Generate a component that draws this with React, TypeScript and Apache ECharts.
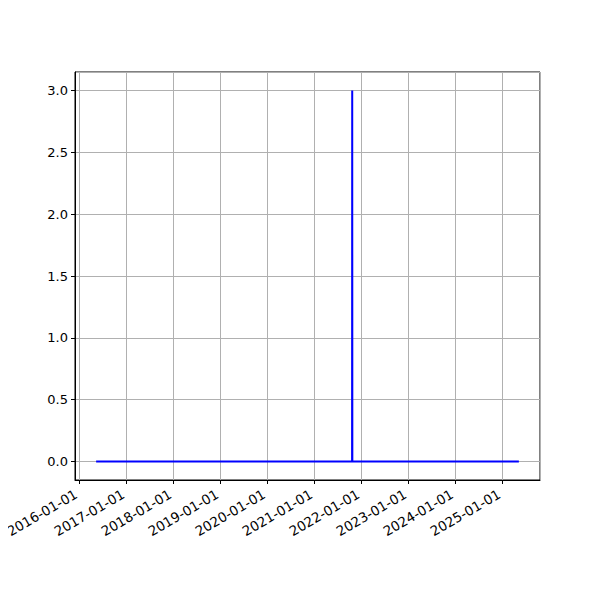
import React, { useEffect, useRef } from "react";
import * as echarts from "echarts";

const dates = ["2016-05-09", "2021-10-19", "2021-10-20", "2021-10-21", "2025-05-07"];
const values = [0, 0, 3, 0, 0];
const yTicks = [0, 0.5, 1, 1.5, 2, 2.5, 3];

export default function App() {
  const ref = useRef<HTMLDivElement>(null);
  useEffect(() => {
    if (!ref.current) return;
    const chart = echarts.init(ref.current, null, { renderer: "svg" });
    const ts = dates.map((d) => Date.parse(d + "T00:00:00Z"));
    const span = ts[ts.length - 1] - ts[0];
    const xmin = ts[0] - 0.05 * span;
    const xmax = ts[ts.length - 1] + 0.05 * span;
    const ymin = Math.min(...values);
    const ymax = Math.max(...values);
    const yspan = ymax - ymin;
    const font = "DejaVu Sans";
    chart.setOption({
      animation: false,
      backgroundColor: "#ffffff",
      grid: {
        left: 75,
        right: 60,
        top: 72,
        bottom: 120,
        show: true,
        borderColor: "#000000",
        borderWidth: 1,
        containLabel: false,
      },
      xAxis: {
        type: "time",
        min: xmin,
        max: xmax,
        splitNumber: 10,
        axisLine: { show: true, onZero: false, lineStyle: { color: "#000", width: 1 } },
        axisTick: { show: true, length: 4, lineStyle: { color: "#000", width: 1 } },
        axisLabel: {
          show: true,
          rotate: 30,
          color: "#000",
          fontFamily: font,
          fontSize: 13.5,
          margin: 19,
          verticalAlign: "bottom",
          align: "right",
          showMinLabel: false,
          showMaxLabel: false,
          hideOverlap: false,
          formatter: (v: number) => {
            const d = new Date(v);
            const y = d.getUTCFullYear();
            const m = String(d.getUTCMonth() + 1).padStart(2, "0");
            const dd = String(d.getUTCDate()).padStart(2, "0");
            return `${y}-${m}-${dd}`;
          },
        },
        splitLine: { show: true, lineStyle: { color: "#b0b0b0", width: 1 } },
      },
      yAxis: {
        type: "value",
        min: ymin - 0.05 * yspan,
        max: ymax + 0.05 * yspan,
        splitNumber: 7,
        axisLine: { show: true, lineStyle: { color: "#000", width: 1 } },
        axisTick: { show: true, length: 4, lineStyle: { color: "#000", width: 1 } },
        axisLabel: {
          color: "#000",
          fontFamily: font,
          fontSize: 13,
          margin: 7,
          showMinLabel: false,
          showMaxLabel: false,
          formatter: (v: number) => (yTicks.some((t) => Math.abs(t - v) < 1e-9) ? v.toFixed(1) : ""),
        },
        splitLine: { show: true, lineStyle: { color: "#b0b0b0", width: 1 } },
      },
      series: [
        {
          type: "line",
          data: ts.map((t, i) => [t, values[i]]),
          showSymbol: false,
          symbol: "none",
          lineStyle: { color: "#0000ff", width: 2 },
        },
      ],
    });
    return () => chart.dispose();
  }, []);
  return <div ref={ref} style={{ width: 600, height: 600, margin: -8 }} />;
}
